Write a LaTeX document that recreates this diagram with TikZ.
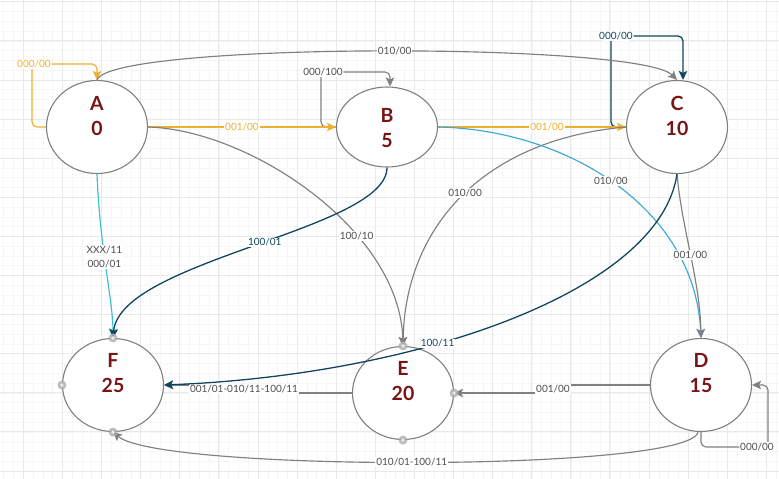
\documentclass[tikz,border=0pt]{standalone}
\usepackage{fontspec}
\setmainfont{Lato}
\usepackage{tikz}
\usetikzlibrary{arrows.meta,automata,shapes.geometric}

\definecolor{edgegray}{HTML}{808080}
\definecolor{lblgray}{HTML}{4D4D4D}
\definecolor{dsorange}{HTML}{F0AE32}
\definecolor{dsteal}{HTML}{3EBDCB}
\definecolor{dssky}{HTML}{3AA9D6}
\definecolor{dsnavy}{HTML}{10465F}
\definecolor{statered}{HTML}{781414}

\begin{document}
\begin{tikzpicture}[->,>={Stealth[length=9pt,width=8.5pt,inset=2pt]},x=1pt,y=-1pt,
                    node distance=290pt,line width=1.15pt]

  \tikzstyle{every state}=[ellipse,draw=edgegray,fill=white,line width=1.1pt,
                           minimum width=101pt,minimum height=93pt,inner sep=0pt]
  \tikzstyle{statetext}=[font=\fontsize{19.5}{25}\selectfont\bfseries,text=statered,align=center]
  \tikzstyle{lbl}=[font=\fontsize{10}{14}\selectfont,fill=white,inner sep=1pt,text=lblgray]
  \tikzstyle{grayedge}=[draw=edgegray]
  \tikzstyle{orangeedge}=[draw=dsorange]
  \tikzstyle{tealedge}=[draw=dsteal]
  \tikzstyle{skyedge}=[draw=dssky]
  \tikzstyle{navyedge}=[draw=dsnavy,line width=1.3pt]
  \tikzstyle{port}=[fill=gray!60,opacity=.85]

  \useasboundingbox (0,0) rectangle (779,479);

  % background grid
  \begin{scope}[-]
    \clip (0,0) rectangle (779,479);
    \draw[gray!7,line width=.6pt,shift={(3.74,1.7)}] (-20,-20) grid[step=9.78pt] (800,500);
    \draw[gray!17,line width=.7pt,shift={(23.3,1.7)}] (-40,-40) grid[step=39.1pt] (800,500);
  \end{scope}

  \node[state,label={[statetext,yshift=11pt]center:{A\\0}}]
    (A) at (97,127) {};
  \node[state,minimum height=80pt,label={[statetext,yshift=-1.5pt]center:{B\\5}}]
    (B) [right of=A] {};
  \node[state,label={[statetext,yshift=11.5pt]center:{C\\10}}]
    (C) [right of=B] {};
  \node[state,label={[statetext,yshift=11.5pt]center:{F\\25}}]
    (F) [below of=A,node distance=258pt,xshift=16pt] {};
  \node[state,label={[statetext,yshift=12pt]center:{E\\20}}]
    (E) [right of=F,yshift=-8pt] {};
  \node[state,label={[statetext,yshift=11.5pt]center:{D\\15}}]
    (D) [right of=F,node distance=588pt] {};

  % self loops
  \draw[orangeedge,rounded corners=5pt] (A.west) -| (32,64)
    node[lbl,text=dsorange,xshift=2pt] {000/00} -| (A.north);
  \draw[grayedge,rounded corners=5pt] (B.west) -| (321,72)
    node[lbl,xshift=2pt] {000/100} -| ([xshift=3pt]B.north);
  \draw[navyedge,rounded corners=5pt] (C.west) -| (611,36)
    node[lbl,text=dsnavy,xshift=5pt] {000/00} -| ([xshift=6pt]C.north);
  \draw[grayedge,rounded corners=5pt] (D.south) |- (768,447)
    node[lbl,xshift=-11pt] {000/00} |- (D.east);

  % transitions
  \draw[orangeedge] (A.east) -- node[lbl,text=dsorange] {001/00} (B.west);
  \draw[orangeedge] (B.east) -- node[lbl,text=dsorange,pos=.58] {001/00} (C.west);
  \draw[grayedge] (A.north) .. controls (110,42) and (640,42) ..
    node[lbl,pos=.52] {010/00} (C.north);
  \draw[grayedge] (A.east) .. controls (250,130) and (400,230) ..
    node[lbl,pos=.66] {100/10} (E.north);
  \draw[tealedge] (A.south) .. controls (100,250) and (113,300) ..
    node[lbl,pos=.42,align=center] {XXX/11\\000/01} (F.north);
  \draw[navyedge] (B.south) .. controls (387,230) and (120,260) ..
    node[lbl,text=dsnavy,pos=.47] {100/01} (F.north);
  \draw[grayedge] (C.west) .. controls (480,140) and (405,230) ..
    node[lbl,pos=.48] {010/00} (E.north);
  \draw[skyedge] (B.east) .. controls (570,130) and (695,210) ..
    node[lbl,pos=.48] {010/00} (D.north);
  \draw[grayedge] (C.south) .. controls (682,230) and (700,280) ..
    node[lbl] {001/00} (D.north);
  \draw[grayedge] (D.west) -- (553,385) -- node[lbl] {001/00} (553,393) -- (E.east);
  \draw[grayedge] (E.west) -- (244,393) -- node[lbl] {001/01-010/11-100/11} (244,385) -- (F.east);
  \draw[navyedge] (C.south) .. controls (660,290) and (420,375) ..
    node[lbl,text=dsnavy,pos=.62] {100/11} (F.east);
  \draw[grayedge] ([xshift=-3pt]D.south) .. controls (690,472) and (160,472) ..
    node[lbl,pos=.51] {010/01-100/11} (F.south);

  % connection points
  \foreach \p in {F.north,F.west,F.south,E.north,E.east,E.south} {
    \fill[port] (\p) circle (4.5pt);
    \fill[white!85!gray] (\p) circle (1.8pt);
  }

\end{tikzpicture}
\end{document}
